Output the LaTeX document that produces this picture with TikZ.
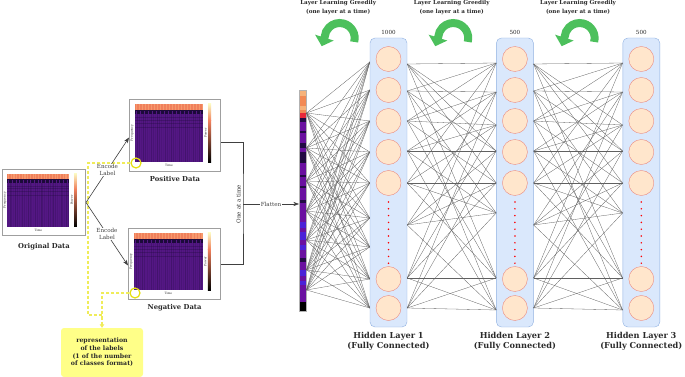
\documentclass[tikz,border=0pt]{standalone}
\usepackage{fontspec}
\setmainfont{DejaVu Serif}
\usepackage{tikz}
\usetikzlibrary{arrows.meta,positioning,calc}
\definecolor{layblue}{HTML}{DAE8FC}
\definecolor{layedge}{HTML}{8FB0E0}
\definecolor{unitfill}{HTML}{FFE6CC}
\definecolor{unitedge}{HTML}{EA8A80}
\definecolor{greedy}{HTML}{4CC05C}
\definecolor{notefill}{HTML}{FFFF88}
\definecolor{ringyellow}{HTML}{E6E010}
\definecolor{dashyellow}{HTML}{F0EC5A}
\definecolor{wiregray}{HTML}{606060}
\definecolor{txtgray}{HTML}{2A2A2A}
\definecolor{specpurple}{HTML}{541784}
\definecolor{specorange}{HTML}{F0805C}
\definecolor{specpeach}{HTML}{F8A070}
\definecolor{specdark}{HTML}{1C0A3A}
\definecolor{specyellow}{HTML}{FCF8C0}
\definecolor{stripPeach}{HTML}{F6B27A}
\definecolor{stripOrange}{HTML}{F28A55}
\definecolor{stripRed}{HTML}{E8283A}
\definecolor{stripDark}{HTML}{220A44}
\definecolor{stripPurple}{HTML}{6A10A0}
\definecolor{stripBlue}{HTML}{4A22D8}

\begin{document}
\begin{tikzpicture}[x=1pt,y=-1pt,>=Stealth,font=\fontsize{5.6}{6.8}\selectfont,text=txtgray]

\tikzset{
specframe/.style={
    draw=gray!75,
    line width=1pt,
    fill=white,
    anchor=north west,
    inner sep=0pt
},
datalab/.style={font=\fontsize{6.8}{8}\selectfont\bfseries},
hlayer/.style={
    draw=layedge,
    fill=layblue,
    rounded corners=5pt,
    minimum width=37pt,
    minimum height=289pt,
    inner sep=0pt
},
unit/.style={circle,draw=unitedge,fill=unitfill,minimum size=25pt,inner sep=0pt,line width=0.4pt},
wire/.style={wiregray,line width=0.3pt},
hcap/.style={font=\fontsize{8.2}{10}\selectfont\bfseries,align=center},
a/.style={->,line width=0.6pt,color=black!75},
ydash/.style={dashyellow,line width=1.3pt,dash pattern=on 3pt off 2pt},
ring/.style={circle,draw=ringyellow,line width=1.2pt,minimum size=10pt,inner sep=0pt},
note/.style={fill=notefill,rounded corners=3pt,minimum width=82pt,minimum height=49pt,
    align=center,font=\fontsize{6.2}{7.6}\selectfont\bfseries},
tiny/.style={font=\fontsize{3}{3}\selectfont,inner sep=0pt}
}

\useasboundingbox (0,0) rectangle (685,377);

\node[specframe,minimum width=83pt,minimum height=66pt] (orig) at (2,169) {};
\node[specframe,minimum width=91pt,minimum height=72pt] (pos) at (129,99) {};
\node[specframe,minimum width=92pt,minimum height=71pt] (neg) at (128,228) {};

\foreach \nm/\sx/\sy in {orig/0.912/0.917,pos/1/1,neg/1.011/0.986}{
\begin{scope}[shift={(\nm.north west)},xscale=\sx,yscale=\sy]
  \fill[specpurple] (6,5) rectangle (74,63);
  \foreach \i in {0,...,33}
    \fill[specdark,opacity={0.06+0.04*mod(\i*5,7)}] ({6.3+2*\i},15) rectangle ({7.3+2*\i},63);
  \foreach \yy in {18,21,24,28}
    \fill[specdark,opacity=0.3] (6,\yy) rectangle (74,{\yy+1});
  \fill[specorange] (6,5) rectangle (74,11);
  \foreach \i in {0,...,22}
    \fill[specpeach,opacity=0.8] ({6.6+3*\i},5) rectangle ({7.8+3*\i},11);
  \fill[specdark] (6,11) rectangle (74,15);
  \foreach \i in {0,...,16}
    \fill[specpurple] ({7+4*\i},12) rectangle ({8+4*\i},15);
  \shade[top color=specyellow,bottom color=specorange] (79,5) rectangle (82,22);
  \shade[top color=specorange,middle color=purple!70!specpurple,bottom color=black] (79,22) rectangle (82,63);
  \node[tiny,rotate=90] at (3.2,34) {Frequency};
  \node[tiny,rotate=90] at (76.5,34) {Power};
  \node[tiny] at (40,66.5) {Time};
\end{scope}
}

\node[datalab,below=4pt of orig] {Original Data};
\node[datalab,below=1pt of pos] {Positive Data};
\node[datalab,below=1pt of neg] {Negative Data};

\node[ring] (posring) at (136,163) {};
\node[ring] (negring) at (135,293) {};
\node[note] (note) at (102,352.5) {representation\\of the labels\\(1 of the number\\of classes format)};
\draw[ydash,-{Triangle[length=3.5pt,width=4.5pt]}] (posring.west) -| (88,315) -| (note.north);
\draw[ydash] (negring.west) -| ([yshift=8pt]note.north);

\draw[a] (orig.east) -- node[fill=white,inner sep=0.8pt,align=center] {Encode\\Label} ([yshift=-2pt]pos.west);
\draw[a] (orig.east) -- node[fill=white,inner sep=0.8pt,align=center] {Encode\\Label} ([yshift=-1.5pt]neg.west);

\foreach \ya/\yb/\col in {90/96/stripPeach,96/106/stripOrange,106/110/stripPeach,110/113/stripOrange,
  113/118/stripRed,118/122/stripDark,122/131/stripPurple,131/133/stripDark,133/143/stripPurple,
  143/148/stripDark,148/152/stripPurple,152/160/stripDark,160/163/specdark,163/175/stripPurple,
  175/177/stripDark,177/186/stripPurple,186/188/stripDark,188/200/stripPurple,200/203/stripDark,
  203/222/stripPurple,222/228/stripBlue,228/232/stripPurple,232/240/stripBlue,240/245/stripPurple,
  245/250/stripBlue,250/258/stripPurple,258/262/stripDark,262/270/stripPurple,270/276/stripBlue,
  276/281/stripPurple,281/285/stripBlue,285/302/stripPurple,302/311/black}
  \fill[\col] (299,\ya) rectangle (306,\yb);
\node[draw=gray!60,line width=0.5pt,minimum width=7pt,minimum height=221pt,inner sep=0pt,anchor=north west] (strip) at (299,90) {};

\coordinate (join) at (243,204);
\draw[line width=0.6pt,black!75] ([yshift=-7pt]pos.east) -| (join) |- (neg.east);
\node[rotate=90,anchor=south,inner sep=2pt] at (join) {One at a time};
\draw[a] (join) -- node[fill=white,inner sep=0.8pt] {Flatten} (join -| strip.west);

\node[hlayer] (l1) at (388.5,182.5) {};
\node[hlayer,right=89pt of l1] (l2) {};
\node[hlayer,right=89pt of l2] (l3) {};

\foreach \l/\num in {1/1000,2/500,3/500}{
  \foreach \k/\y in {1/59,2/90,3/121,4/152,5/183,6/279,7/308}
    \node[unit] (u\l-\k) at (l\l |- 0,\y) {};
  \draw[red,line width=1.7pt,line cap=round,dash pattern=on 0pt off 6.8pt] (l\l |- 0,202) -- (l\l |- 0,264);
  \node[above=0pt of l\l] {\num};
  \node[hcap,below=2pt of l\l] {Hidden Layer \l\\(Fully Connected)};
}

\foreach \ya in {113,148,181,211,240,270,290}
  \foreach \yb in {62,90,121,152,183,218,247,279,308}
    \draw[wire] (strip.east |- 0,\ya) -- (l1.west |- 0,\yb);
\foreach \p/\q in {l1/l2,l2/l3}
  \foreach \ya/\tl in {64/{63,125,151,183,278},91/{92,63,151,213,310},121/{125,63,92,183,278},
      151/{151,92,125,213,310},183/{183,63,125,213,278},225/{213,92,151,183,310},
      278/{278,63,125,183,310},308/{310,92,151,213,278}}
    \foreach \yb in \tl
      \draw[wire] (\p.east |- 0,\ya) -- (\q.west |- 0,\yb);

\foreach \p/\q [count=\i] in {strip/l1,l1/l2,l2/l3}{
  \coordinate (g\i) at ($(\p.east)!0.5!(\q.west)$);
  \draw[greedy,line width=8pt,-{Triangle[length=9pt,width=19pt]}]
    ($(g\i |- 0,38)+(16,3.9)$) arc[start angle=-15,end angle=175,radius=15pt] -- ++(-3,9.5);
  \node[align=center,font=\fontsize{5.6}{8.6}\selectfont\bfseries] at (g\i |- 0,7.5)
    {Layer Learning Greedily\\(one layer at a time)};
}

\end{tikzpicture}
\end{document}
